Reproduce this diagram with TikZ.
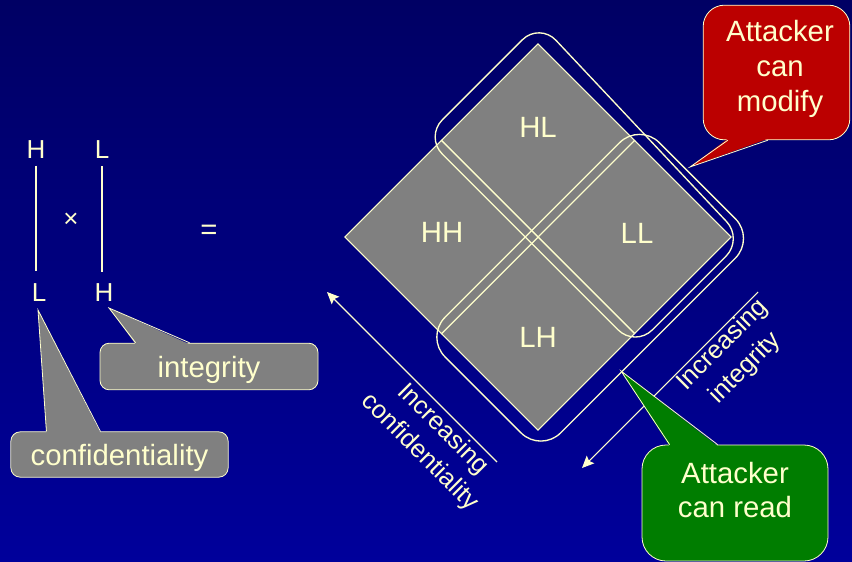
\documentclass[tikz,border=0pt]{standalone}
\usepackage{fontspec}
\setmainfont{Liberation Sans}
\usepackage{xcolor}
\usetikzlibrary{arrows.meta,positioning,calc}

\definecolor{cream}{RGB}{255,255,204}
\definecolor{navytop}{RGB}{0,0,100}
\definecolor{navybot}{RGB}{0,0,155}
\definecolor{cellgray}{RGB}{128,128,128}
\definecolor{modred}{RGB}{187,0,0}
\definecolor{readgreen}{RGB}{0,125,0}

\def\hs{136.5}

\begin{document}
\begin{tikzpicture}[
        x=0.75pt, y=-0.75pt,
        every node/.style={text=cream},
        letter/.style={font=\fontsize{19.5}{23}\selectfont},
        cell/.style={font=\fontsize{22}{26}\selectfont},
        quad/.style={fill=cellgray, draw=cream, line width=0.8pt},
        group/.style={draw=cream, line width=1pt},
        bar/.style={draw=cream, line width=1pt},
        axis/.style={draw=cream, line width=0.8pt, -{Stealth[length=9pt,width=8pt,inset=1.5pt]}},
        axislabel/.style={align=center, font=\fontsize{19}{24}\selectfont},
        bubble/.style={fill=cellgray, draw=cream, line width=0.6pt, rounded corners=7pt, inner sep=0pt, text depth=0pt, font=\fontsize{22}{26}\selectfont},
        callbox/.style={draw=cream, line width=0.6pt, inner sep=0pt, align=center, font=\fontsize{22}{26}\selectfont},
        pointer/.style={draw=cream, line width=0.6pt}
    ]
        % Background
        \useasboundingbox (0,0) rectangle (852,561);
        \shade[top color=navytop, bottom color=navybot] (0,0) rectangle (852,561);

        % Product of the two orders
        \node[letter] (cH) at (36,150) {H};
        \node[letter] (iL) at (102,150) {L};
        \node[letter] (cL) at (39,292.5) {L};
        \node[letter] (iH) at (104,292.5) {H};
        \draw[bar, shorten <=1.5pt, shorten >=6pt] (cH.south) -- (cH.south |- cL.north);
        \draw[bar, shorten <=2pt, shorten >=5pt] (iL.south) -- (iL.south |- iH.north);
        \node[letter] (times) at (71,220) {×};
        \node[cell] (equals) at (209,232) {=};

        % Lattice of four classes
        \begin{scope}[shift={(538,237)}, x={(0.53033pt,-0.53033pt)}, y={(0.53033pt,0.53033pt)}]
            \draw[quad] (-\hs,0) -- (0,0) -- (0,\hs) -- (-\hs,\hs) -- cycle;
            \draw[quad] (0,0) -- (\hs,0) -- (\hs,\hs) -- (0,\hs) -- cycle;
            \draw[quad] (0,-\hs) -- (\hs,-\hs) -- (\hs,0) -- (0,0) -- cycle;
            \draw[quad] (-\hs,-\hs) -- (0,-\hs) -- (0,0) -- (-\hs,0) -- cycle;
            % low integrity: attacker can modify
            \draw[group, rounded corners=18pt] (-\hs-14,-9) -- (\hs+10,-9) -- (\hs+10,\hs+7) -- (-\hs-14,\hs+16) -- cycle;
            % low confidentiality: attacker can read
            \draw[group, rounded corners=21pt] (-9,-\hs-14) -- (\hs+18,-\hs-14) -- (\hs+18,\hs+16) -- (-9,\hs+16) -- cycle;
        \end{scope}
        \node[cell] (hl) at (538,127) {HL};
        \node[cell] (hh) at (442,232) {HH};
        \node[cell] (ll) at (637,233) {LL};
        \node[cell] (lh) at (538,337) {LH};

        % Axes
        \coordinate (confhead) at (327,292);
        \coordinate (conftail) at (497,462);
        \coordinate (integtail) at (758,292);
        \coordinate (integhead) at (582,468);
        \draw[axis] (conftail) -- (confhead);
        \draw[axis] (integtail) -- (integhead);
        \node[axislabel, rotate=-45] (conflabel) at (431,441) {Increasing\\confidentiality};
        \node[axislabel, rotate=45] (integlabel) at (734,357) {Increasing\\integrity};

        % Callouts on the left
        \node[bubble, minimum width=163.5pt, minimum height=35pt] (integ) at (209,366.5) {integrity};
        \coordinate (itip) at (109,308);
        \fill[cellgray] ($(integ.north west)+(36,1.5)$) -- (itip) -- ($(integ.north west)+(90,1.5)$) -- cycle;
        \draw[pointer] ($(integ.north west)+(36,0)$) -- (itip) -- ($(integ.north west)+(90,0)$);

        \node[bubble, minimum width=163pt, minimum height=34pt] (conf) at (119.5,454.5) {confidentiality};
        \coordinate (ctip) at (38,310);
        \fill[cellgray] ($(conf.north west)+(36,1.5)$) -- (ctip) -- ($(conf.north west)+(90,1.5)$) -- cycle;
        \draw[pointer] ($(conf.north west)+(36,0)$) -- (ctip) -- ($(conf.north west)+(90,0)$);

        % Attacker callouts
        \node[callbox, fill=modred, minimum width=110pt, minimum height=101pt, rounded corners=16pt] (modify) at (776.5,72.5) {};
        \node[callbox, draw=none] (modtext) at (780,69) {Attacker\\can\\modify};
        \coordinate (modtip) at (690,167);
        \fill[modred] ($(modify.south west)+(25,-1.5)$) -- (modtip) -- ($(modify.south west)+(65,-1.5)$) -- cycle;
        \draw[pointer] ($(modify.south west)+(25,0)$) -- (modtip) -- ($(modify.south west)+(65,0)$);

        \node[callbox, fill=readgreen, minimum width=139.5pt, minimum height=87pt, rounded corners=18pt] (read) at (735,503) {};
        \node[callbox, draw=none] (readtext) at (735,490) {Attacker\\can read};
        \coordinate (readtip) at (621,371);
        \fill[readgreen] ($(read.north west)+(28,1.5)$) -- (readtip) -- ($(read.north west)+(76,1.5)$) -- cycle;
        \draw[pointer] ($(read.north west)+(28,0)$) -- (readtip) -- ($(read.north west)+(76,0)$);
    \end{tikzpicture}
\end{document}
